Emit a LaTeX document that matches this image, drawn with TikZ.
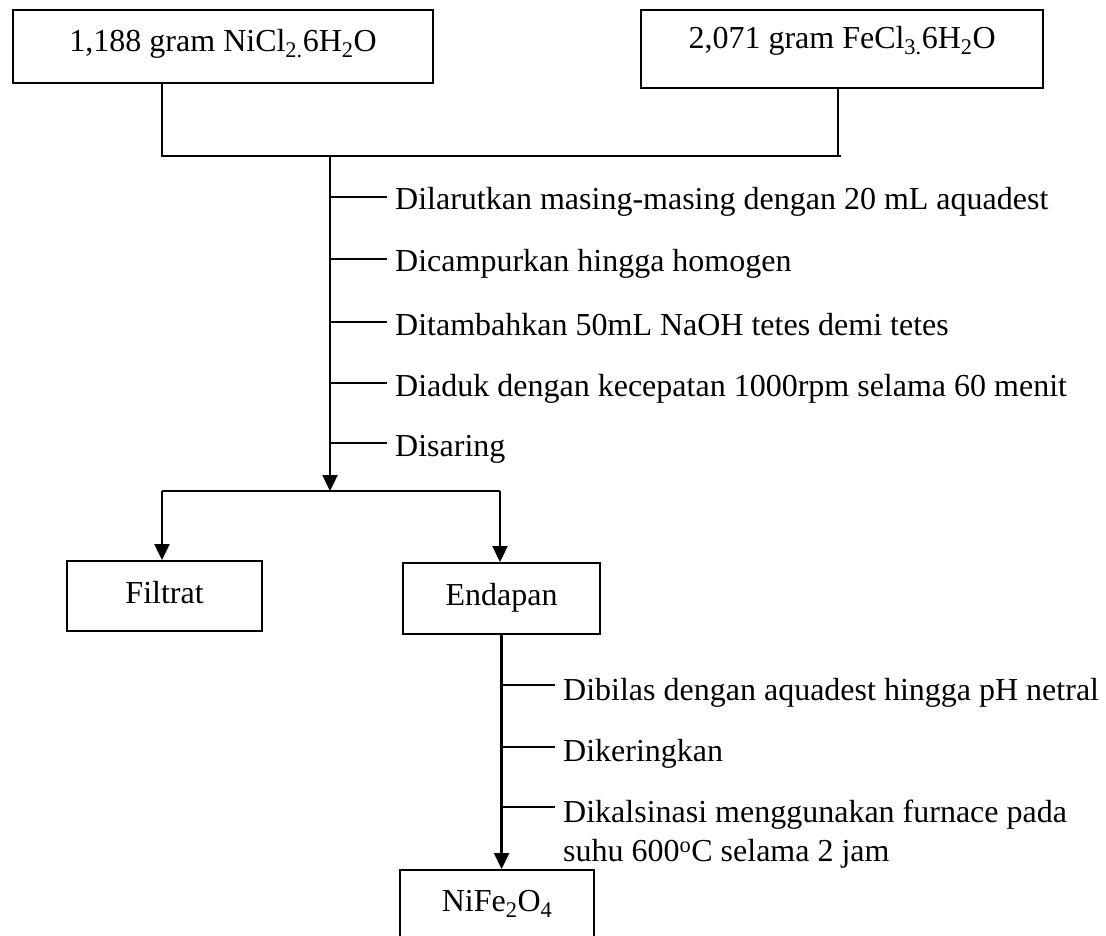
\documentclass[tikz,border=0pt]{standalone}
\usepackage{fontspec}
\setmainfont{Liberation Serif}
\usetikzlibrary{arrows.meta}
\newcommand\flowfont{\fontsize{32}{39}\selectfont}
\begin{document}
\begin{tikzpicture}[x=1pt,y=-1pt,
  box/.style={draw, line width=2.2pt, inner sep=0pt, anchor=north west, font=\flowfont},
  steptext/.style={anchor=base west, inner xsep=8pt, inner ysep=0pt, font=\flowfont},
  thinline/.style={line width=1.1pt},
  arr/.style={line width=2.4pt, -{Triangle[length=16pt,width=15pt]}}]
\useasboundingbox (0,0) rectangle (1106,936);
% top boxes
\node[box, minimum width=420pt, text height=41pt, text depth=32pt] (ni) at (12,9) {1,188 gram NiCl\textsubscript{2.}6H\textsubscript{2}O};
\node[box, minimum width=402pt, text height=38pt, text depth=40pt] (fe) at (640,9) {2,071 gram FeCl\textsubscript{3.}6H\textsubscript{2}O};
\coordinate (jl) at (162,156);
\coordinate (jr) at (838,156);
\coordinate (je) at (841,156);
\draw[thinline] (jl |- ni.south) -- (jl) -- (je);
\draw[thinline] (jr |- fe.south) -- (jr);
% main arrow
\coordinate (m0) at (330,157);
\coordinate (f) at (330,491);
\draw[arr] (m0) -- (f);
% steps
\coordinate (t1) at (330,197);
\coordinate (t2) at (330,259);
\coordinate (t3) at (330,322);
\coordinate (t4) at (330,383);
\coordinate (t5) at (330,443);
\node[steptext] (s1) at (387,210) {Dilarutkan masing-masing dengan 20 mL aquadest};
\node[steptext] (s2) at (387,272) {Dicampurkan hingga homogen};
\node[steptext] (s3) at (387,335) {Ditambahkan 50mL NaOH tetes demi tetes};
\node[steptext] (s4) at (387,396) {Diaduk dengan kecepatan 1000rpm selama 60 menit};
\node[steptext] (s5) at (387,456) {Disaring};
\foreach \i in {1,...,5} {\draw[thinline] (t\i) -- (t\i -| s\i.west);}
% fork
\coordinate (fl) at (162,491);
\coordinate (fr) at (500,491);
\draw[thinline] (fl) -- (fr);
\node[box, minimum width=195pt, text height=42pt, text depth=28pt] (filtrat) at (66,560) {Filtrat};
\node[box, minimum width=197pt, text height=42pt, text depth=29pt] (endapan) at (402,562) {Endapan};
\draw[arr] (fl) -- (fl |- filtrat.north);
\draw[arr] (fr) -- (fr |- endapan.north);
% final
\node[box, minimum width=194pt, text height=41pt, text depth=35pt] (nife) at (399,869) {NiFe\textsubscript{2}O\textsubscript{4}};
\draw[arr] (endapan.south) -- (endapan.south |- nife.north);
\coordinate (t6) at (500,685);
\coordinate (t7) at (500,747);
\coordinate (t8) at (500,807);
\node[steptext] (s6) at (555,700) {Dibilas dengan aquadest hingga pH netral};
\node[steptext] (s7) at (555,761) {Dikeringkan};
\node[steptext, anchor=north west, align=left] (s8) at (555,800.1) {Dikalsinasi menggunakan furnace pada\\suhu 600\textsuperscript{o}C selama 2 jam};
\foreach \i in {6,7,8} {\draw[thinline] (t\i) -- (t\i -| s\i.west);}
\end{tikzpicture}
\end{document}
